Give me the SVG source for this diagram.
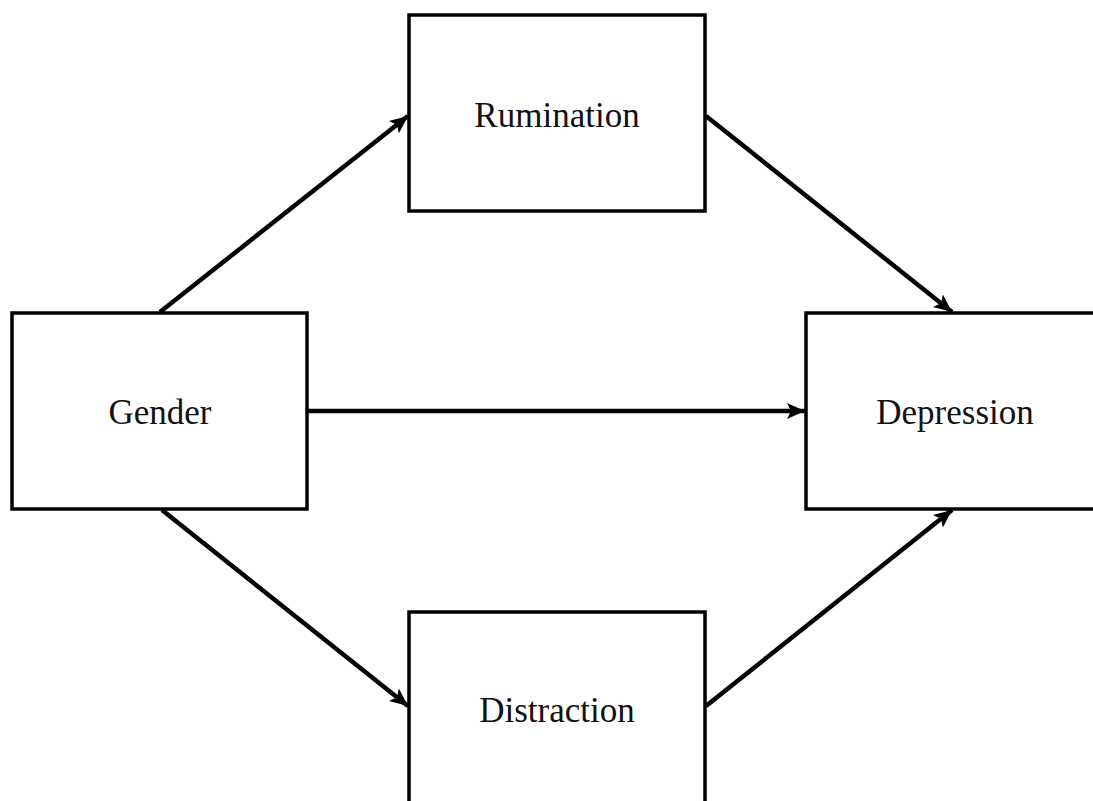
<svg xmlns="http://www.w3.org/2000/svg" width="1093" height="801" viewBox="0 0 1093 801">
  <style>
    .box { fill: #fff; stroke: #000; stroke-width: 3.5; }
    .label { font-family: "Liberation Serif", "Times New Roman", serif; font-size: 35px; fill: #111; text-anchor: middle; }
    .edge { fill: none; stroke: #000; stroke-width: 4.5; }
  </style>
  <defs>
    <marker id="arrow" markerUnits="userSpaceOnUse" markerWidth="20" markerHeight="20" viewBox="0 0 20 20" refX="18" refY="10" orient="auto">
      <path d="M0,2 L18,10 L0,18 L4,10 Z" fill="#000"/>
    </marker>
  </defs>

  <g id="connectors">
    <line class="edge" x1="160" y1="312" x2="408" y2="116" marker-end="url(#arrow)"/>
    <line class="edge" x1="706" y1="116" x2="952" y2="312" marker-end="url(#arrow)"/>
    <line class="edge" x1="308" y1="411" x2="805" y2="411" marker-end="url(#arrow)"/>
    <line class="edge" x1="162" y1="510" x2="408" y2="706" marker-end="url(#arrow)"/>
    <line class="edge" x1="706" y1="706" x2="952" y2="510" marker-end="url(#arrow)"/>
  </g>

  <g id="node-rumination">
    <rect class="box" x="409" y="15" width="296" height="196"/>
    <text class="label" x="557" y="127">Rumination</text>
  </g>

  <g id="node-gender">
    <rect class="box" x="12" y="313" width="295" height="196"/>
    <text class="label" x="160" y="424">Gender</text>
  </g>

  <g id="node-depression">
    <rect class="box" x="806" y="313" width="300" height="196"/>
    <text class="label" x="955" y="424">Depression</text>
  </g>

  <g id="node-distraction">
    <rect class="box" x="409" y="612" width="296" height="200"/>
    <text class="label" x="557" y="722">Distraction</text>
  </g>
</svg>
